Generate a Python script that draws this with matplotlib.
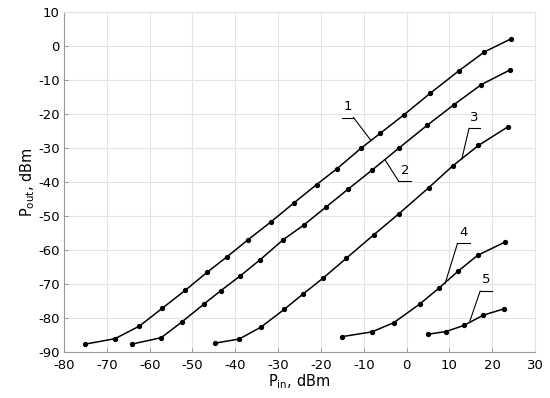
import matplotlib
matplotlib.use("Agg")
import matplotlib.pyplot as plt

plt.rcParams['font.family'] = ['DejaVu Sans']

# Curve data (P_in, P_out) in dBm
x1 = [-75.1, -68.1, -62.4, -57.1, -51.7, -46.6, -41.9, -37.0, -31.6, -26.4, -21.0, -16.2, -10.6, -6.1, -0.6, 5.5, 12.2, 18.2, 24.4]
y1 = [-87.6, -86.0, -82.3, -77.1, -71.8, -66.5, -61.9, -56.9, -51.6, -46.2, -40.7, -36.0, -30.0, -25.6, -20.2, -13.9, -7.3, -1.7, 2.1]

x2 = [-64.2, -57.3, -52.4, -47.4, -43.4, -38.8, -34.2, -28.8, -24.0, -18.9, -13.7, -8.1, -1.8, 4.8, 11.1, 17.5, 24.2]
y2 = [-87.6, -85.7, -81.0, -75.9, -71.9, -67.5, -62.8, -56.9, -52.6, -47.4, -42.1, -36.5, -30.0, -23.3, -17.2, -11.3, -7.0]

x3 = [-44.7, -39.1, -34.0, -28.6, -24.1, -19.4, -14.1, -7.6, -1.8, 5.2, 10.8, 16.8, 23.6]
y3 = [-87.3, -86.1, -82.6, -77.4, -72.8, -68.1, -62.4, -55.4, -49.3, -41.6, -35.2, -29.2, -23.8]

x4 = [-15.1, -8.1, -3.0, 3.1, 7.6, 12.0, 16.6, 23.0]
y4 = [-85.4, -84.0, -81.3, -75.8, -71.1, -66.2, -61.5, -57.6]

x5 = [4.9, 9.2, 13.4, 17.9, 22.8]
y5 = [-84.7, -83.9, -82.1, -79.1, -77.2]

curve_names = ["1", "2", "3", "4", "5"]
# label text position, underline start/end x, underline y, leader end point
label_text = [(-13.7, -19.6), (-0.4, -38.4), (15.9, -22.8), (13.3, -56.8), (18.6, -70.5)]
underline = [(-15.1, -12.4, -21.0), (-1.9, 1.0, -39.6), (14.6, 17.2, -24.2), (11.9, 14.8, -58.0), (17.2, 20.0, -72.0)]
leader_from = [(-12.4, -21.0), (-1.9, -39.6), (14.6, -24.2), (11.9, -58.0), (17.2, -72.0)]
leader_to = [(-8.4, -27.6), (-5.0, -33.5), (12.9, -33.2), (9.0, -69.8), (14.8, -80.8)]

xticks = list(range(-80, 31, 10))
yticks = list(range(-90, 11, 10))

fig = plt.figure(figsize=(5.5, 3.98), dpi=100)
ax = fig.add_axes([0.1164, 0.1148, 0.8563, 0.855])

for xs, ys in [(x1, y1), (x2, y2), (x3, y3), (x4, y4), (x5, y5)]:
    ax.plot(xs, ys, color='black', lw=1.1, marker='o', markersize=2.8, zorder=3)

for name, (tx, ty), (ux0, ux1, uy), (fx, fy), (ex, ey) in zip(curve_names, label_text, underline, leader_from, leader_to):
    ax.text(tx, ty, name, fontsize=9.5, ha='center', va='bottom', color='black')
    ax.plot([ux0, ux1], [uy, uy], color='black', lw=0.8)
    ax.plot([fx, ex], [fy, ey], color='black', lw=0.8)

ax.set_xlim(-80, 30)
ax.set_ylim(-90, 10)
ax.set_xticks(xticks)
ax.set_yticks(yticks)
ax.set_xticklabels([str(v) for v in xticks])
ax.set_yticklabels([str(v) for v in yticks])
ax.grid(True, color='#e3e3e3', lw=0.8)
ax.set_axisbelow(True)
for s in ['top', 'right']:
    ax.spines[s].set_color('#e3e3e3')
for s in ['left', 'bottom']:
    ax.spines[s].set_color('#999999')
ax.tick_params(direction='in', length=3, width=0.6, color='#888888', labelsize=9.5)
ax.tick_params(axis='x', pad=5)
ax.tick_params(axis='y', pad=3)

ax.set_xlabel(r'P$_{\mathregular{in}}$, dBm', fontsize=10.5, labelpad=0)
ax.set_ylabel(r'P$_{\mathregular{out}}$, dBm', fontsize=10.5, labelpad=1)

fig.savefig('out.png', dpi=100)
